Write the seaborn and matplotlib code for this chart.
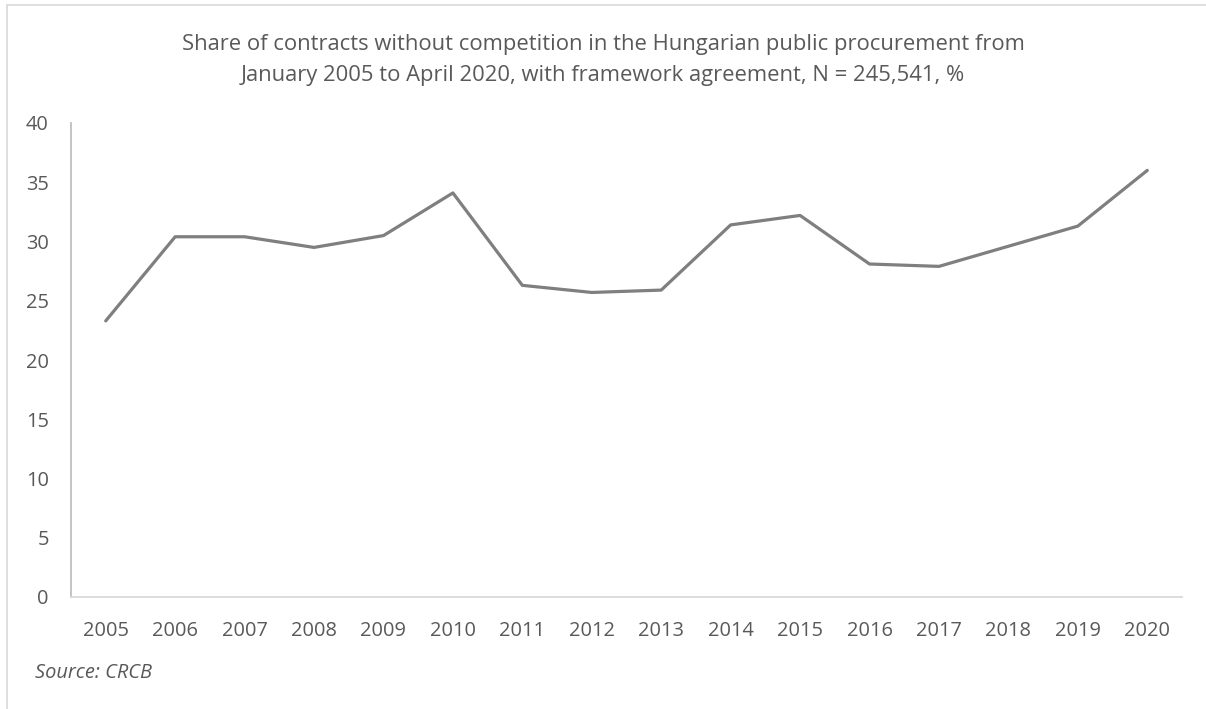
import matplotlib
matplotlib.use("Agg")
import matplotlib.pyplot as plt
import seaborn as sns
import pandas as pd
from matplotlib.lines import Line2D

years = [2005, 2006, 2007, 2008, 2009, 2010, 2011, 2012,
         2013, 2014, 2015, 2016, 2017, 2018, 2019, 2020]
share = [23.3, 30.4, 30.4, 29.5, 30.5, 34.1, 26.3, 25.7,
         25.9, 31.4, 32.2, 28.1, 27.9, 29.6, 31.3, 36.0]
y_ticks = [0, 5, 10, 15, 20, 25, 30, 35, 40]

title = ("Share of contracts without competition in the Hungarian public procurement from\n"
         "January 2005 to April 2020, with framework agreement, N = 245,541, %")
source = "Source: CRCB"

sns.set_theme(style="white")
plt.rcParams["font.family"] = ["Open Sans", "DejaVu Sans"]
text_col = "#595959"

df = pd.DataFrame({"year": years, "share": share})

fig = plt.figure(figsize=(12.06, 7.09), dpi=100)
ax = fig.add_axes([71 / 1206, 1 - 597 / 709, (1182 - 71) / 1206, (597 - 123) / 709])

sns.lineplot(data=df, x="year", y="share", ax=ax, color="#7f7f7f", linewidth=2.3)

ax.set_xlim(2004.5, 2020.5)
ax.set_ylim(0, 40)
ax.set_xticks(years)
ax.set_xticklabels([str(y) for y in years])
ax.set_yticks(y_ticks)
ax.set_xlabel("")
ax.set_ylabel("")
ax.tick_params(axis="both", length=0, labelsize=14.4, labelcolor=text_col)
ax.tick_params(axis="x", pad=17)
ax.tick_params(axis="y", pad=16)

for side in ["top", "right"]:
    ax.spines[side].set_visible(False)
ax.spines["left"].set_color("#bfbfbf")
ax.spines["left"].set_linewidth(1.3)
ax.spines["bottom"].set_color("#d9d9d9")
ax.spines["bottom"].set_linewidth(1.3)

fig.text(0.5, 1 - 60 / 709, title, ha="center", va="center", fontsize=15.8,
         color=text_col, linespacing=1.6)
fig.text(35 / 1206, 1 - 673 / 709, source, ha="left", va="center", fontsize=14.4,
         color=text_col, style="italic")

# chart frame, only top and left edges visible in the crop
fig.add_artist(Line2D([7 / 1206, 1], [1 - 5 / 709, 1 - 5 / 709], color="#d9d9d9",
                      linewidth=1.2, transform=fig.transFigure))
fig.add_artist(Line2D([7 / 1206, 7 / 1206], [0, 1 - 5 / 709], color="#d9d9d9",
                      linewidth=1.2, transform=fig.transFigure))

fig.savefig("out.png", dpi=100)
plt.close(fig)
